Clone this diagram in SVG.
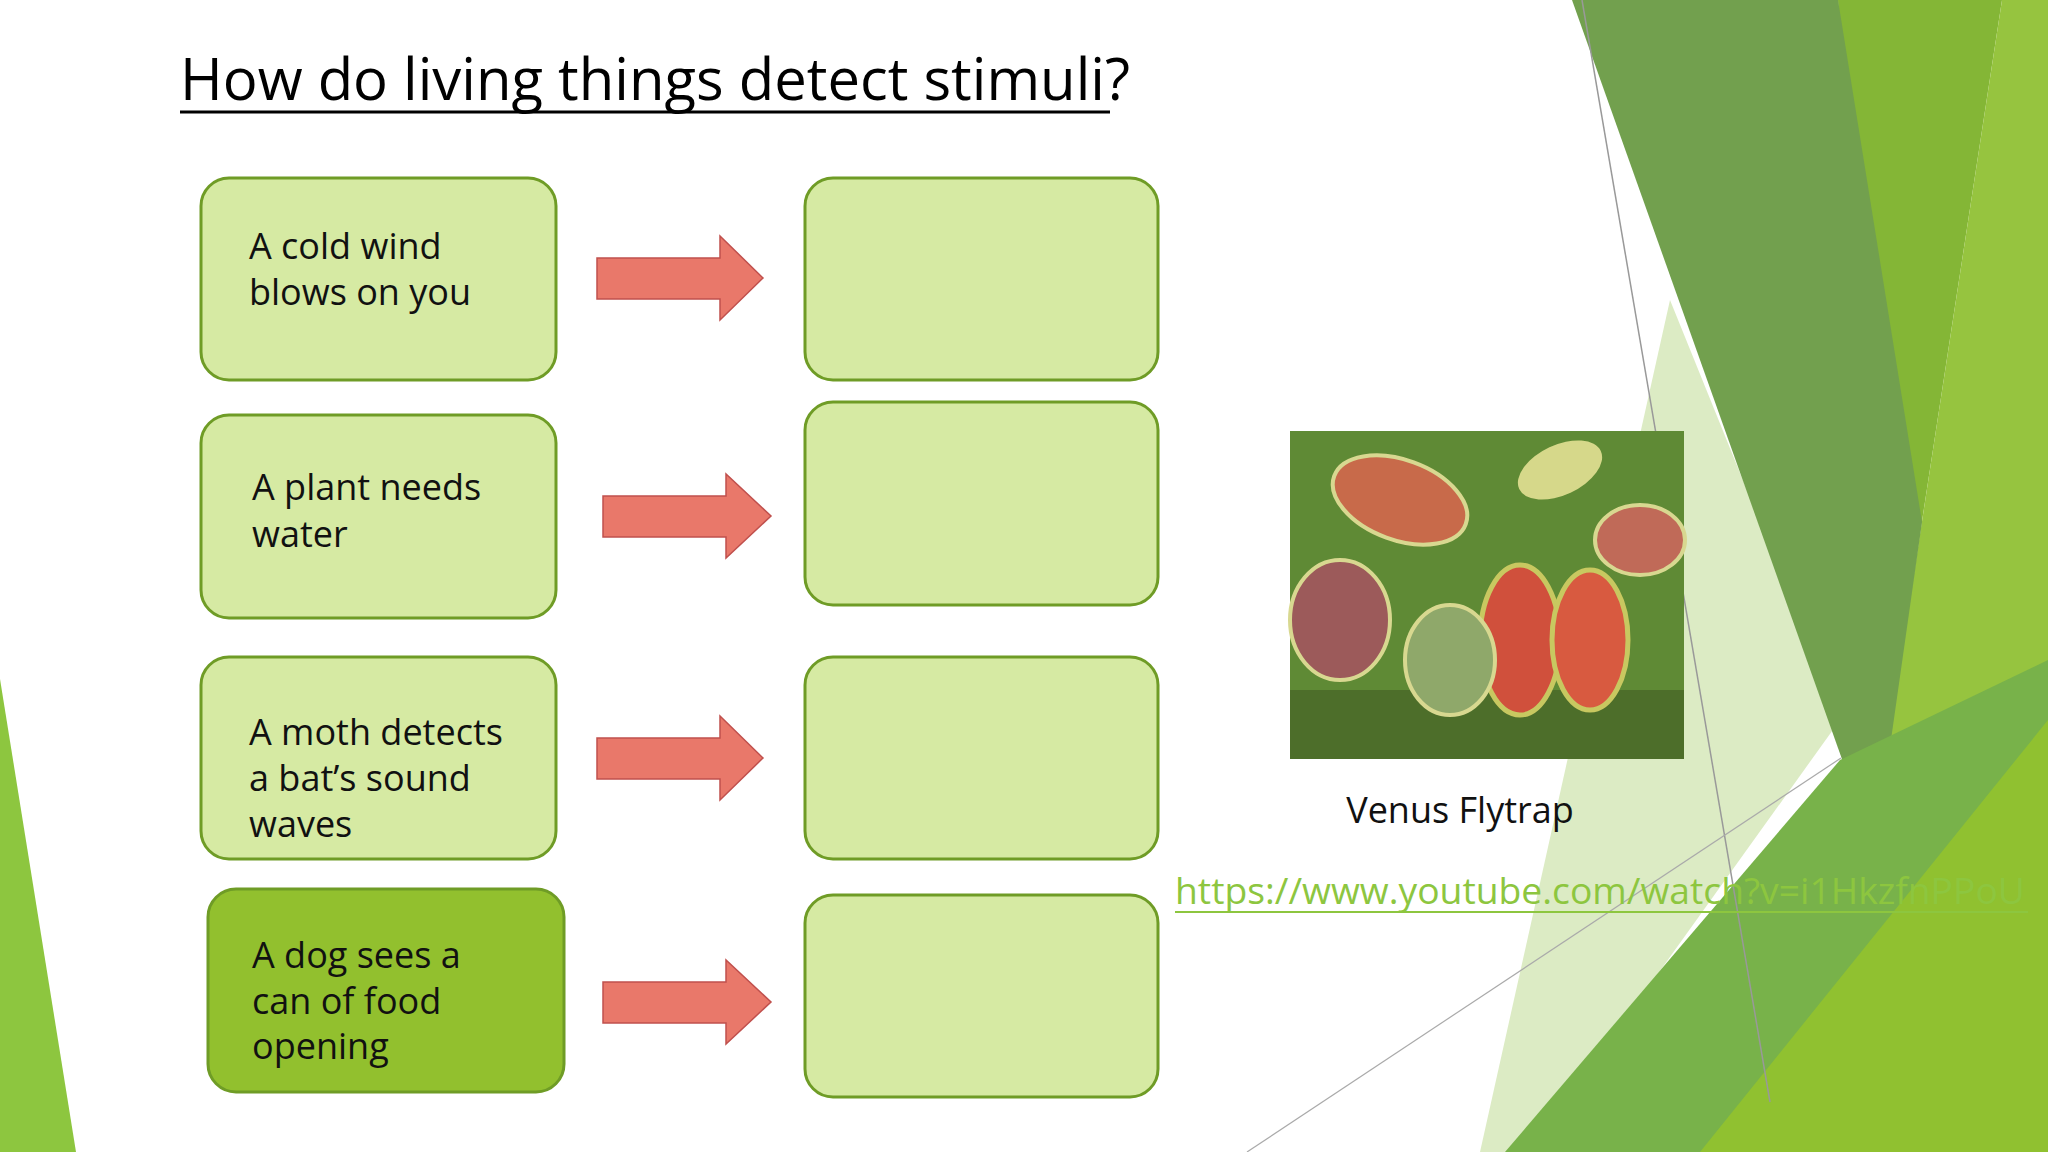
<svg xmlns="http://www.w3.org/2000/svg" width="2048" height="1152" viewBox="0 0 2048 1152">
<style>
.box{fill:#d6eaa3;stroke:#6f9c26;stroke-width:3}
.dark{fill:#92c02e}
.t{font-family:"Open Sans","DejaVu Sans",sans-serif;font-size:36px;fill:#111}
.arr{fill:#e9786a;stroke:#c0504d;stroke-width:1.5}
.bg{stroke:none}
</style>
<rect width="2048" height="1152" fill="#fff"/>
<g id="background">
<polygon class="bg" points="0,679 0,1152 76,1152" fill="#8dc63f"/>
<polygon class="bg" points="1838,0 2002,0 1870,860" fill="#84b636"/>
<polygon class="bg" points="2002,0 2048,0 2048,1152 1890,1152 1870,860" fill="#96c43f"/>
<polygon class="bg" points="1670,300 1840,720 1530,1152 1480,1152" fill="#dcebc4"/>
<polygon class="bg" points="1572,0 1838,0 1922,522 1875,852" fill="#72a04e"/>
<polygon class="bg" points="1505,1152 1840,760 2048,660 2048,1152" fill="#78b24a"/>
<polygon class="bg" points="1700,1152 2048,720 2048,1152" fill="#90c130"/>
<line x1="1582" y1="0" x2="1770" y2="1102" stroke="#999" stroke-width="1.5"/>
<line x1="1247" y1="1152" x2="1841" y2="758" stroke="#aaa" stroke-width="1.2"/>
</g>
<g id="title">
<text x="180" y="100" font-family="'Open Sans','DejaVu Sans',sans-serif" font-size="58" fill="#000" textLength="950" lengthAdjust="spacingAndGlyphs">How do living things detect stimuli?</text>
<line x1="180" y1="112" x2="1110" y2="112" stroke="#000" stroke-width="3"/>
</g>
<g id="node1"><rect class="box" x="201" y="178" width="355" height="202" rx="28"/><text class="t" x="249" y="259">A cold wind</text><text class="t" x="249" y="305">blows on you</text></g>
<g id="node2"><rect class="box" x="201" y="415" width="355" height="203" rx="28"/><text class="t" x="252" y="500">A plant needs</text><text class="t" x="252" y="547">water</text></g>
<g id="node3"><rect class="box" x="201" y="657" width="355" height="202" rx="28"/><text class="t" x="249" y="745">A moth detects</text><text class="t" x="249" y="791">a bat’s sound</text><text class="t" x="249" y="837">waves</text></g>
<g id="node4"><rect class="box dark" x="208" y="889" width="356" height="203" rx="28"/><text class="t" x="252" y="968">A dog sees a</text><text class="t" x="252" y="1014">can of food</text><text class="t" x="252" y="1059">opening</text></g>
<g id="node5"><rect class="box" x="805" y="178" width="353" height="202" rx="28"/></g>
<g id="node6"><rect class="box" x="805" y="402" width="353" height="203" rx="28"/></g>
<g id="node7"><rect class="box" x="805" y="657" width="353" height="202" rx="28"/></g>
<g id="node8"><rect class="box" x="805" y="895" width="353" height="202" rx="28"/></g>
<g id="connectors">
<polygon class="arr" points="597,258 720,258 720,236 763,278 720,320 720,299 597,299"/>
<polygon class="arr" points="603,496 726,496 726,474 771,516 726,558 726,537 603,537"/>
<polygon class="arr" points="597,738 720,738 720,716 763,758 720,800 720,779 597,779"/>
<polygon class="arr" points="603,982 726,982 726,960 771,1002 726,1044 726,1023 603,1023"/>
</g>
<g id="photo">
<rect x="1290" y="431" width="394" height="328" fill="#5f8a35"/>
<rect x="1290" y="690" width="394" height="69" fill="#4d6e2a"/>
<ellipse cx="1400" cy="500" rx="70" ry="40" fill="#c86a4a" transform="rotate(20 1400 500)" stroke="#d8d890" stroke-width="4"/>
<ellipse cx="1340" cy="620" rx="50" ry="60" fill="#9c5a5a" stroke="#d8d890" stroke-width="4"/>
<ellipse cx="1560" cy="470" rx="45" ry="25" fill="#d6d88a" transform="rotate(-25 1560 470)"/>
<ellipse cx="1520" cy="640" rx="40" ry="75" fill="#d0503c" stroke="#c8c860" stroke-width="5"/>
<ellipse cx="1590" cy="640" rx="38" ry="70" fill="#d85a40" stroke="#c8c860" stroke-width="5"/>
<ellipse cx="1640" cy="540" rx="45" ry="35" fill="#c06a58" stroke="#d8d890" stroke-width="4"/>
<ellipse cx="1450" cy="660" rx="45" ry="55" fill="#8fa86a" stroke="#d8d890" stroke-width="4"/>
</g>
<g id="caption"><text class="t" x="1460" y="823" text-anchor="middle">Venus Flytrap</text></g>
<g id="link">
<text x="1175" y="904" font-family="'Open Sans','DejaVu Sans',sans-serif" font-size="36" fill="#8dc63f" textLength="850" lengthAdjust="spacingAndGlyphs">https://www.youtube.com/watch?v=i1HkzfnPPoU</text>
<line x1="1175" y1="912" x2="2028" y2="912" stroke="#8dc63f" stroke-width="2"/>
</g>
</svg>
